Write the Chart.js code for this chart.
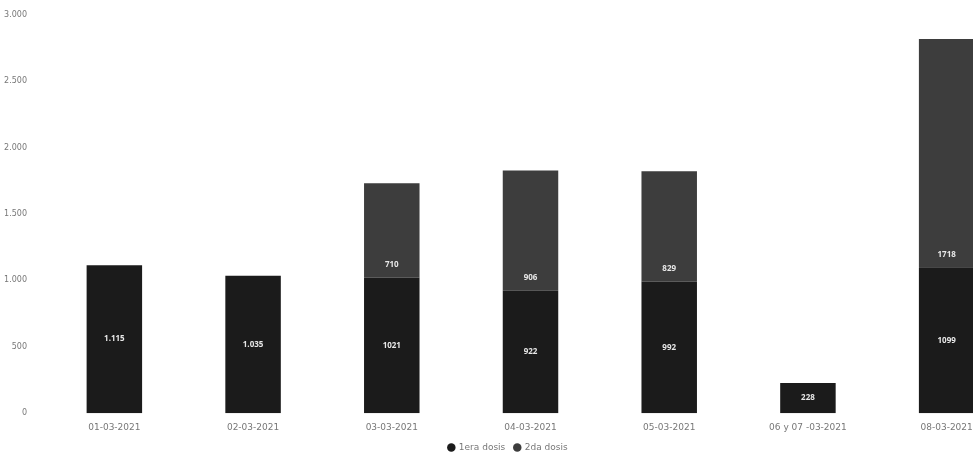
<!DOCTYPE html>
<html>
<head>
<meta charset="utf-8">
<script src="https://cdn.jsdelivr.net/npm/chart.js@4.4.0/dist/chart.umd.min.js"></script>
<style>
  html, body { margin: 0; padding: 0; background: #fff; overflow: hidden; }
  #wrap { width: 1036px; height: 464px; }
</style>
</head>
<body>
<div id="wrap"><canvas id="chart"></canvas></div>
<script>
const fechas = ['01-03-2021', '02-03-2021', '03-03-2021', '04-03-2021', '05-03-2021', '06 y 07 -03-2021', '08-03-2021'];
const primeraDosis = [1115, 1035, 1021, 922, 992, 228, 1099];
const segundaDosis = [0, 0, 710, 906, 829, 0, 1718];
const etiquetasPrimera = ['1.115', '1.035', '1021', '922', '992', '228', '1099'];
const etiquetasSegunda = ['', '', '710', '906', '829', '', '1718'];
const yTicks = [0, 500, 1000, 1500, 2000, 2500, 3000];

// dibuja los valores dentro de las barras
const valoresPlugin = {
  id: 'valores',
  afterDatasetsDraw(chart) {
    const ctx = chart.ctx;
    ctx.save();
    ctx.fillStyle = '#e8e8e8';
    ctx.font = 'bold 8px "Open Sans", sans-serif';
    ctx.textAlign = 'center';
    ctx.textBaseline = 'middle';
    chart.getDatasetMeta(0).data.forEach((bar, i) => {
      if (!etiquetasPrimera[i]) return;
      ctx.fillText(etiquetasPrimera[i], bar.x, (bar.y + bar.base) / 2);
    });
    chart.getDatasetMeta(1).data.forEach((bar, i) => {
      if (!etiquetasSegunda[i]) return;
      ctx.fillText(etiquetasSegunda[i], bar.x, bar.base - 13);
    });
    ctx.restore();
  }
};

new Chart(document.getElementById('chart'), {
  type: 'bar',
  data: {
    labels: fechas,
    datasets: [
      { label: '1era dosis', data: primeraDosis, backgroundColor: '#1b1b1b' },
      { label: '2da dosis', data: segundaDosis, backgroundColor: '#3d3d3d' }
    ]
  },
  options: {
    responsive: true,
    maintainAspectRatio: false,
    animation: false,
    layout: { padding: { top: 4, right: 20, bottom: 2, left: 0 } },
    datasets: { bar: { barPercentage: 0.8, categoryPercentage: 0.5 } },
    plugins: {
      legend: {
        position: 'bottom',
        labels: {
          usePointStyle: true,
          pointStyle: 'circle',
          boxWidth: 6,
          boxHeight: 6,
          padding: 9,
          color: '#777',
          font: { size: 9, family: '"DejaVu Sans", sans-serif' }
        }
      },
      tooltip: { enabled: false }
    },
    scales: {
      x: {
        stacked: true,
        grid: { display: false },
        border: { display: false },
        ticks: { color: '#777', padding: 1, maxRotation: 0, font: { size: 9, family: '"DejaVu Sans", sans-serif' } }
      },
      y: {
        stacked: true,
        min: 0,
        max: 3000,
        grid: { display: false },
        border: { display: false },
        afterFit: (s) => { s.width = 45; },
        afterBuildTicks: (s) => { s.ticks = yTicks.map((v) => ({ value: v })); },
        ticks: {
          color: '#777',
          padding: 10,
          font: { size: 8, family: '"DejaVu Sans", sans-serif' },
          callback: (v) => v.toLocaleString('de-DE')
        }
      }
    }
  },
  plugins: [valoresPlugin]
});
</script>
</body>
</html>
